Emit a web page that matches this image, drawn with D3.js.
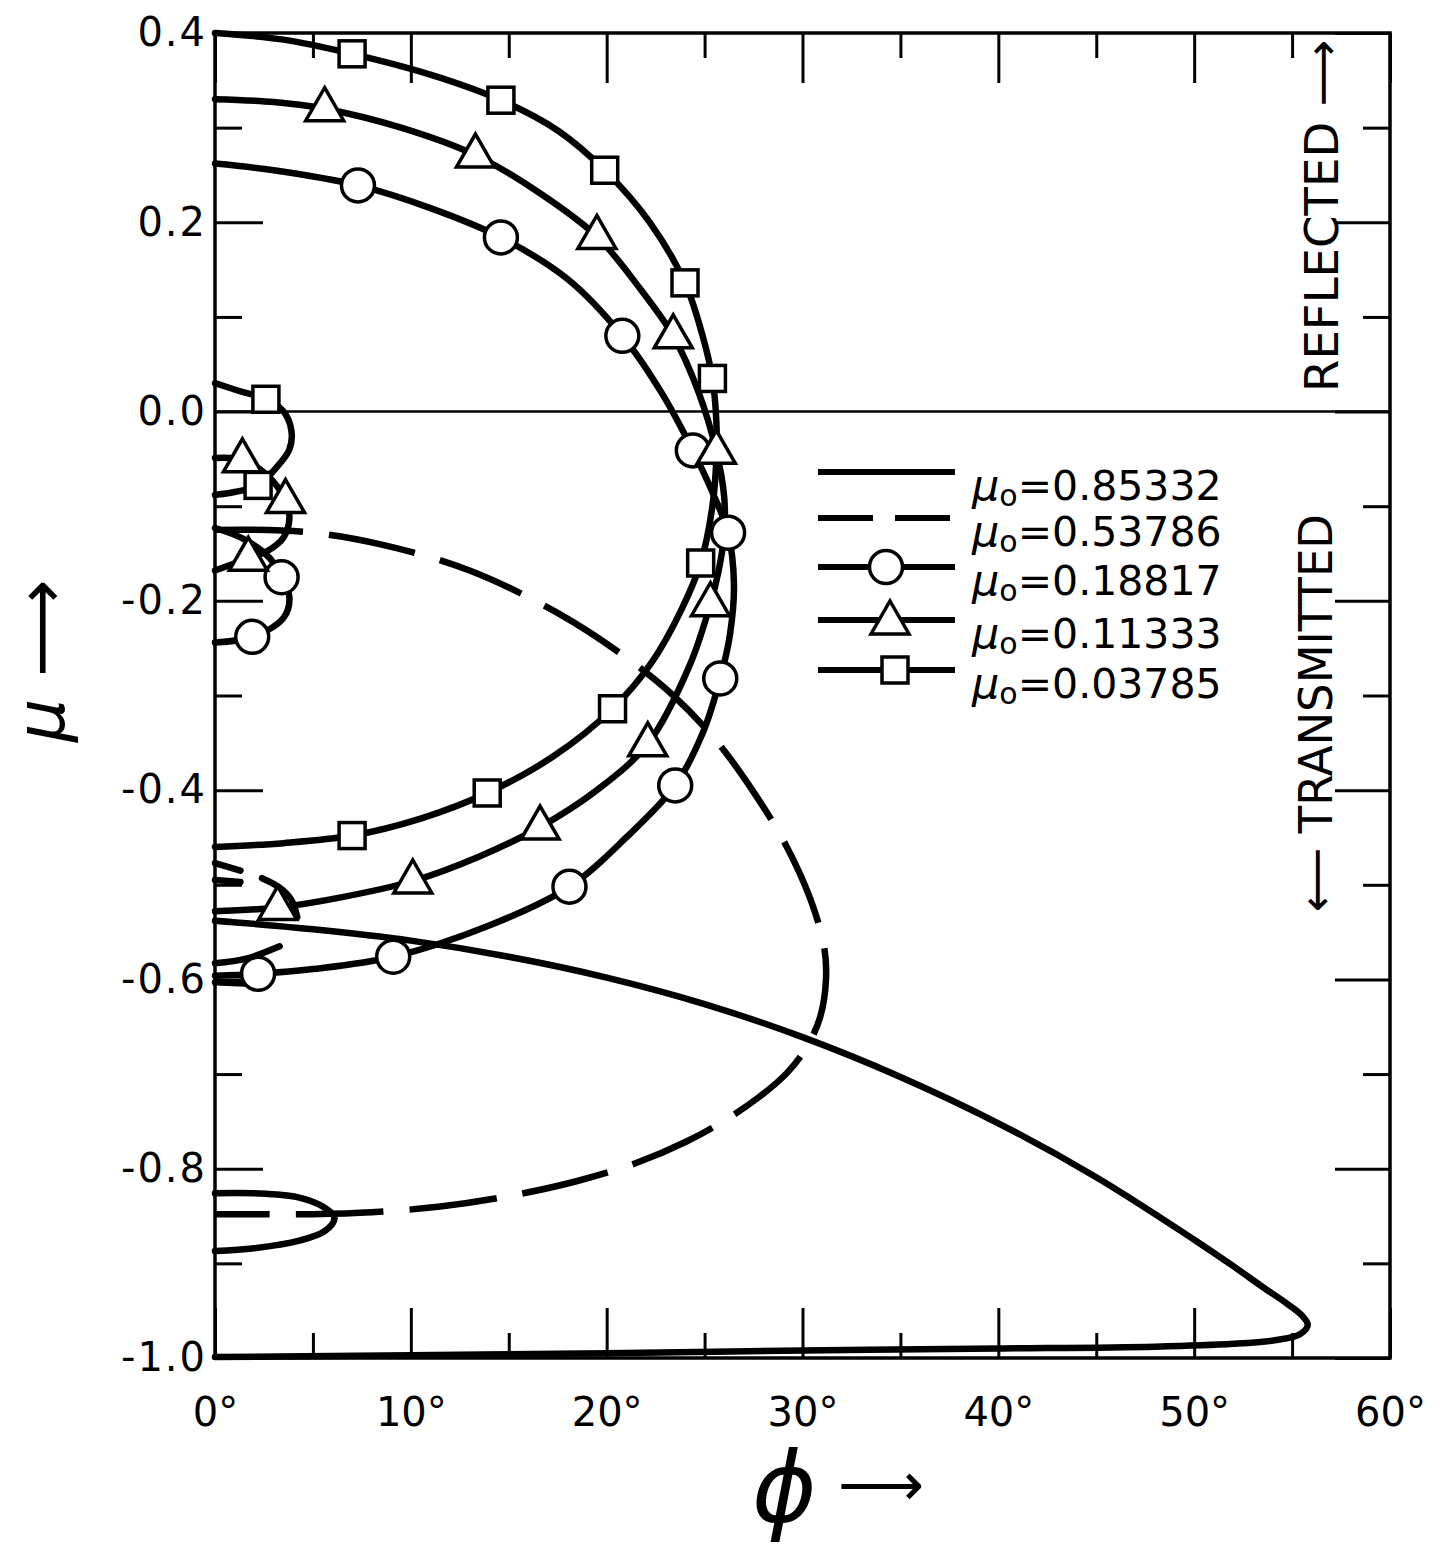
<!DOCTYPE html>
<html lang="en">
<head>
<meta charset="UTF-8">
<title>mu vs phi loci</title>
<script src="https://cdn.jsdelivr.net/npm/d3@7"></script>
<style>
  body{margin:0;background:#fff;}
  text{font-family:"DejaVu Sans",sans-serif;fill:#000;}
  .curve{fill:none;stroke:#000;stroke-width:6.5;stroke-linecap:round;stroke-linejoin:round;}
  .curve.dashed{stroke-dasharray:88,26;stroke-linecap:butt;}
  .mark{fill:#fff;stroke:#000;stroke-width:3.5;}
  .axis path{display:none;}
  .axis line{stroke:#000;stroke-width:3;}
  .axis text{font-size:40px;font-family:"DejaVu Sans",sans-serif;}
  .frame{fill:none;stroke:#000;stroke-width:3.5;}
</style>
</head>
<body>
<svg width="1449" height="1547"></svg>
<script>
// ---- data (phi in degrees, mu) ----
var xMajor = [0, 10, 20, 30, 40, 50, 60];
var xMinor = [5, 15, 25, 35, 45, 55];
var yMajor = [0.4, 0.2, 0.0, -0.2, -0.4, -0.6, -0.8, -1.0];
var yMinor = [0.3, 0.1, -0.1, -0.3, -0.5, -0.7, -0.9];

var legendLabels = ["0.85332", "0.53786", "0.18817", "0.11333", "0.03785"];

// mu0 = 0.85332 (solid)
var solidMain = [[0,-0.538],[5,-0.547],[10,-0.559],[15,-0.576],[20,-0.598],[25,-0.626],[30,-0.661],[35,-0.703],[40,-0.752],[45,-0.809],[50,-0.875],[52,-0.903],[53.5,-0.925],[54.7,-0.942],[55.5,-0.955],[55.8,-0.965],[55.4,-0.975],[54.2,-0.981],[52,-0.985],[48,-0.988],[40,-0.990],[30,-0.992],[20,-0.995],[10,-0.997],[0,-0.999]];
var solidLoop = [[0,-0.826],[2,-0.826],[4.2,-0.830],[5.5,-0.840],[6.1,-0.852],[5.6,-0.866],[4.3,-0.876],[2,-0.884],[0,-0.887]];

// mu0 = 0.53786 (dashed)
var dashMain = [[0,-0.125],[4.5,-0.127],[8.4,-0.140],[13,-0.168],[17.6,-0.214],[20.8,-0.257],[23.4,-0.300],[25.6,-0.348],[27.6,-0.405],[29.2,-0.460],[30.4,-0.515],[31.1,-0.565],[31.2,-0.600],[30.9,-0.640],[30.2,-0.672],[29.2,-0.699],[27.8,-0.724],[26.1,-0.748],[24.1,-0.771],[21.5,-0.794],[18.5,-0.813],[15,-0.829],[11.5,-0.840],[8,-0.846],[5,-0.848],[0,-0.848]];
var dashBitA = [[0,-0.477],[1.3,-0.485]];
var dashBitB = [[0,-0.495],[1.3,-0.497]];
var dashBitC = [[2.4,-0.493],[3.3,-0.503],[3.9,-0.516],[4.2,-0.534]];

// mu0 = 0.18817 (circles)
var circMain = [[0,0.262],[3,0.255],[7.3,0.239],[11,0.215],[14.6,0.184],[18,0.140],[20.8,0.080],[22.8,0.020],[24.4,-0.041],[25.5,-0.090],[26.2,-0.128],[26.5,-0.183],[26.3,-0.235],[25.8,-0.282],[24.9,-0.340],[23.5,-0.395],[21,-0.450],[18.1,-0.502],[14,-0.543],[9.1,-0.576],[5,-0.589],[2.2,-0.594],[0,-0.596]];
var circMainMarks = [[7.3,0.239],[14.6,0.184],[20.8,0.080],[24.4,-0.041],[26.2,-0.128],[25.8,-0.282],[23.5,-0.395],[18.1,-0.502],[9.1,-0.576],[2.2,-0.594]];
var circLoop = [[0,-0.123],[1.5,-0.135],[2.8,-0.155],[3.4,-0.175],[3.8,-0.196],[3.5,-0.218],[1.9,-0.238],[0,-0.244]];
var circLoopMarks = [[3.4,-0.175],[1.9,-0.238]];
var circBitA = [[0,-0.583],[1.6,-0.578],[3.3,-0.565]];
var circBitB = [[0,-0.603],[2.3,-0.605]];

// mu0 = 0.11333 (triangles)
var triMain = [[0,0.330],[3,0.327],[5.6,0.320],[9.5,0.300],[13.3,0.271],[16.5,0.232],[19.5,0.185],[21.7,0.130],[23.4,0.080],[24.7,0.020],[25.6,-0.042],[26,-0.090],[26,-0.130],[25.7,-0.170],[25.3,-0.203],[24.2,-0.270],[22.1,-0.351],[19.5,-0.400],[16.6,-0.439],[13.5,-0.470],[10.1,-0.496],[6.5,-0.513],[3.2,-0.524],[0,-0.528]];
var triMainMarks = [[5.6,0.320],[13.3,0.271],[19.5,0.185],[23.4,0.080],[25.6,-0.042],[25.3,-0.203],[22.1,-0.351],[16.6,-0.439],[10.1,-0.496],[3.2,-0.524]];
var triLoop = [[0,-0.049],[1.4,-0.051],[2.7,-0.068],[3.6,-0.094],[3.8,-0.112],[3.5,-0.133],[2.7,-0.147],[1.7,-0.155],[0,-0.168]];
var triLoopMarks = [[1.4,-0.051],[3.6,-0.094],[1.7,-0.155]];

// mu0 = 0.03785 (squares)
var sqMain = [[0,0.400],[3.5,0.393],[7,0.378],[11,0.356],[14.6,0.329],[17.5,0.297],[19.9,0.255],[22.2,0.200],[24,0.136],[24.9,0.080],[25.4,0.035],[25.6,-0.010],[25.6,-0.050],[25.4,-0.100],[24.8,-0.160],[23.8,-0.210],[22.3,-0.265],[20.3,-0.314],[17.3,-0.364],[13.9,-0.403],[10.5,-0.430],[7,-0.448],[3.5,-0.456],[0,-0.460]];
var sqMainMarks = [[7,0.378],[14.6,0.329],[19.9,0.255],[24,0.136],[25.4,0.035],[24.8,-0.160],[20.3,-0.314],[13.9,-0.403],[7,-0.448]];
var sqLoop = [[0,0.030],[1.2,0.022],[2.6,0.013],[3.5,0.000],[3.9,-0.020],[3.8,-0.040],[3.1,-0.060],[2.2,-0.078],[1,-0.085],[0,-0.088]];
var sqLoopMarks = [[2.6,0.013],[2.2,-0.078]];

// ---- drawing ----
var svg = d3.select("svg");
var x = d3.scaleLinear().domain([0, 60]).range([215, 1390]);
var y = d3.scaleLinear().domain([-1, 0.4]).range([1358, 33]);

var line = d3.line()
    .x(function(d){ return x(d[0]); })
    .y(function(d){ return y(d[1]); })
    .curve(d3.curveCatmullRom.alpha(0.5));

// frame
svg.append("rect").attr("class", "frame")
    .attr("x", x(0)).attr("y", y(0.4))
    .attr("width", x(60) - x(0)).attr("height", y(-1) - y(0.4));

// axes (ticks point inward)
svg.append("g").attr("class", "axis")
    .attr("transform", "translate(0," + y(-1) + ")")
    .call(d3.axisBottom(x).tickValues(xMajor).tickSize(-50).tickPadding(40)
        .tickFormat(function(d){ return d + "°"; }));
svg.append("g").attr("class", "axis")
    .attr("transform", "translate(0," + y(-1) + ")")
    .call(d3.axisBottom(x).tickValues(xMinor).tickSize(-25).tickFormat(""));
svg.append("g").attr("class", "axis")
    .attr("transform", "translate(0," + y(0.4) + ")")
    .call(d3.axisTop(x).tickValues(xMajor).tickSize(-50).tickFormat(""));
svg.append("g").attr("class", "axis")
    .attr("transform", "translate(0," + y(0.4) + ")")
    .call(d3.axisTop(x).tickValues(xMinor).tickSize(-25).tickFormat(""));

svg.append("g").attr("class", "axis yl")
    .attr("transform", "translate(" + x(0) + ",0)")
    .call(d3.axisLeft(y).tickValues(yMajor).tickSize(-48).tickPadding(8)
        .tickFormat(function(d){ return d.toFixed(1); }));
svg.append("g").attr("class", "axis")
    .attr("transform", "translate(" + x(0) + ",0)")
    .call(d3.axisLeft(y).tickValues(yMinor).tickSize(-27).tickFormat(""));
svg.append("g").attr("class", "axis")
    .attr("transform", "translate(" + x(60) + ",0)")
    .call(d3.axisRight(y).tickValues(yMajor).tickSize(-55).tickFormat(""));
svg.append("g").attr("class", "axis")
    .attr("transform", "translate(" + x(60) + ",0)")
    .call(d3.axisRight(y).tickValues(yMinor).tickSize(-27).tickFormat(""));
svg.selectAll(".yl text").attr("letter-spacing", 2);

// zero line
svg.append("line")
    .attr("x1", x(0)).attr("x2", x(60))
    .attr("y1", y(0)).attr("y2", y(0))
    .attr("stroke", "#000").attr("stroke-width", 2.5);

// curves
var solidSegs = [solidMain, solidLoop, circMain, circLoop, circBitA, circBitB,
                 triMain, triLoop, sqMain, sqLoop, dashBitA, dashBitB, dashBitC];
svg.append("g").selectAll("path").data(solidSegs).enter().append("path")
    .attr("class", "curve").attr("d", line);
svg.append("path").datum(dashMain).attr("class", "curve dashed").attr("d", line);

// markers
function circleMark(g, px, py){
    g.append("circle").attr("class", "mark").attr("cx", px).attr("cy", py).attr("r", 16.5);
}
function triMark(g, px, py){
    g.append("path").attr("class", "mark")
        .attr("d", "M" + px + "," + (py - 21) + "L" + (px + 19) + "," + (py + 12) + "L" + (px - 19) + "," + (py + 12) + "Z");
}
function sqMark(g, px, py){
    g.append("rect").attr("class", "mark")
        .attr("x", px - 13).attr("y", py - 13).attr("width", 26).attr("height", 26);
}
var mg = svg.append("g");
circMainMarks.concat(circLoopMarks).forEach(function(d){ circleMark(mg, x(d[0]), y(d[1])); });
triMainMarks.concat(triLoopMarks).forEach(function(d){ triMark(mg, x(d[0]), y(d[1])); });
sqMainMarks.concat(sqLoopMarks).forEach(function(d){ sqMark(mg, x(d[0]), y(d[1])); });

// legend
var lg = svg.append("g");
var rowsY = [472, 518, 567, 620, 670];
var lx1 = 818, lx2 = 955;
legendLabels.forEach(function(lab, i){
    var ly = rowsY[i];
    var l = lg.append("line").attr("x1", lx1).attr("x2", lx2).attr("y1", ly).attr("y2", ly)
        .attr("stroke", "#000").attr("stroke-width", 6);
    if (i === 1) l.attr("stroke-dasharray", "55,22");
    if (i === 2) circleMark(lg, 886, ly);
    if (i === 3) triMark(lg, 890, ly + 2);
    if (i === 4) sqMark(lg, 895, ly);
    var t = lg.append("text").attr("x", 972).attr("y", ly + 28).attr("font-size", 41);
    t.append("tspan").attr("font-style", "italic").attr("font-size", 43).text("μ");
    t.append("tspan").attr("dy", 6).attr("font-size", 30).text("o");
    t.append("tspan").attr("dy", -6).text("=" + lab);
});

// side labels
svg.append("text")
    .attr("transform", "translate(1338,392) rotate(-90)")
    .attr("font-size", 46).attr("textLength", 352).attr("lengthAdjust", "spacingAndGlyphs")
    .text("REFLECTED ⟶");
svg.append("text")
    .attr("transform", "translate(1332,912) rotate(-90)")
    .attr("font-size", 46).attr("textLength", 398).attr("lengthAdjust", "spacingAndGlyphs")
    .text("⟵ TRANSMITTED");

// axis titles
svg.append("text")
    .attr("transform", "translate(64,742) rotate(-90)")
    .attr("font-size", 68).attr("font-style", "italic")
    .text("μ ⟶");
svg.append("text")
    .attr("x", 752).attr("y", 1522)
    .attr("font-size", 98).attr("font-style", "italic")
    .text("ϕ");
svg.append("text")
    .attr("x", 838).attr("y", 1505)
    .attr("font-size", 60)
    .text("⟶");
</script>
</body>
</html>
